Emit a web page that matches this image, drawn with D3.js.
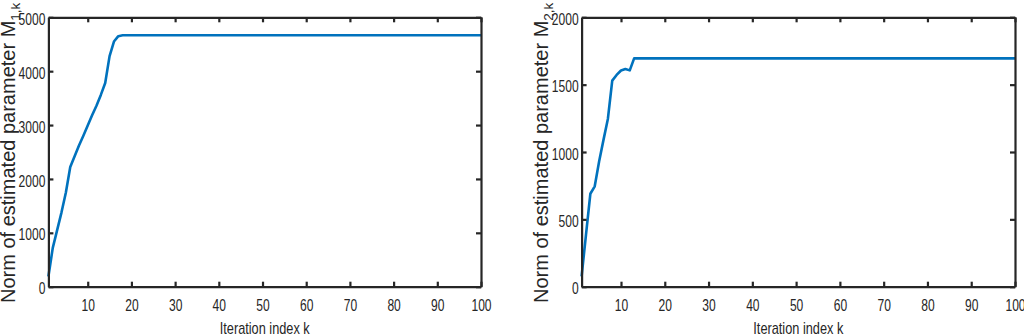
<!DOCTYPE html>
<html>
<head>
<meta charset="utf-8">
<script src="https://cdn.jsdelivr.net/npm/d3@7"></script>
<style>
  html, body { margin: 0; padding: 0; background: #fff; }
  svg { display: block; }
  text { font-family: "Liberation Sans", Arial, Helvetica, sans-serif; fill: #262626; }
</style>
</head>
<body>
<svg id="chart" width="1024" height="336"></svg>
<script>
// ---- Data ----
// Left panel: norm of M_{1,k}
const iterLeft = [1, 2, 3, 4, 5, 6, 7, 8, 9, 10, 11, 12, 13, 14, 15, 16, 17, 18, 100];
const normM1   = [190, 720, 1050, 1380, 1750, 2220, 2420, 2620, 2800, 2990, 3180, 3360, 3560, 3780, 4280, 4550, 4650, 4667, 4667];
// Right panel: norm of M_{2,k}
const iterRight = [1, 2, 3, 4, 5, 6, 7, 8, 9, 10, 11, 12, 13, 100];
const normM2    = [76, 385, 690, 745, 930, 1090, 1245, 1530, 1572, 1605, 1616, 1606, 1695, 1695];

const xTicks = [10, 20, 30, 40, 50, 60, 70, 80, 90, 100];
const yTicksLeft = [0, 1000, 2000, 3000, 4000, 5000];
const yTicksRight = [0, 500, 1000, 1500, 2000];
const xLabel = "Iteration index k";
const yLabelMain = "Norm of estimated parameter M";
const yLabelSubLeft = "1,k";
const yLabelSubRight = "2,k";

const svg = d3.select("#chart");
const axisColor = "#262626";
const lineColor = "#0072BD";
const narrow = 0.71;
const fmt = d3.format("d");

function panel(opts) {
  const { left, right, top, bottom, xs, ys, yDomain, yTicks, sub, labelX } = opts;
  const x = d3.scaleLinear().domain([1, 100]).range([left, right]);
  const y = d3.scaleLinear().domain(yDomain).range([bottom, top]);
  const g = svg.append("g");

  // line
  const line = d3.line().x((d, i) => x(xs[i])).y((d, i) => y(d));
  g.append("path")
    .datum(ys)
    .attr("d", line)
    .attr("fill", "none")
    .attr("stroke", lineColor)
    .attr("stroke-width", 2.6)
    .attr("stroke-linejoin", "round");

  function style(sel) {
    sel.select(".domain").attr("stroke", axisColor).attr("stroke-width", 2.2);
    sel.selectAll(".tick line").attr("stroke", axisColor).attr("stroke-width", 2.2);
  }

  // bottom
  const gb = g.append("g").attr("transform", `translate(0,${bottom})`)
    .call(d3.axisBottom(x).tickValues(xTicks).tickFormat(fmt).tickSize(-5).tickSizeOuter(0).tickPadding(12));
  style(gb);
  gb.selectAll("text").attr("font-size", 17).attr("fill", axisColor)
    .attr("transform", `scale(${narrow},1)`);

  // top
  const gt = g.append("g").attr("transform", `translate(0,${top})`)
    .call(d3.axisTop(x).tickValues(xTicks).tickSize(-5).tickSizeOuter(0).tickFormat(""));
  style(gt);

  // left
  const gl = g.append("g").attr("transform", `translate(${left},0)`)
    .call(d3.axisLeft(y).tickValues(yTicks).tickFormat(fmt).tickSize(-5).tickSizeOuter(0).tickPadding(0));
  style(gl);
  gl.selectAll("text").attr("font-size", 17).attr("fill", axisColor)
    .attr("x", 0).attr("dy", "0.42em")
    .attr("transform", `translate(-3,0) scale(${narrow},1)`);

  // right
  const gr = g.append("g").attr("transform", `translate(${right},0)`)
    .call(d3.axisRight(y).tickValues(yTicks).tickSize(-5).tickSizeOuter(0).tickFormat(""));
  style(gr);

  // x label
  g.append("text")
    .attr("transform", `translate(${(left + right) / 2},334) scale(0.75,1)`)
    .attr("text-anchor", "middle")
    .attr("font-size", 17)
    .text(xLabel);

  // y label
  const yl = g.append("text")
    .attr("transform", `translate(${labelX},303) rotate(-90)`)
    .attr("text-anchor", "start")
    .attr("font-size", 20);
  yl.append("tspan").text(yLabelMain);
  yl.append("tspan").attr("font-size", 13.5).attr("dy", 5).text(sub);
}

panel({ left: 48.4, right: 481, top: 17.3, bottom: 286.7, xs: iterLeft, ys: normM1,
        yDomain: [0, 5000], yTicks: yTicksLeft, sub: yLabelSubLeft, labelX: 15 });
panel({ left: 581.6, right: 1015, top: 17.3, bottom: 286.7, xs: iterRight, ys: normM2,
        yDomain: [0, 2000], yTicks: yTicksRight, sub: yLabelSubRight, labelX: 548 });
</script>
</body>
</html>
